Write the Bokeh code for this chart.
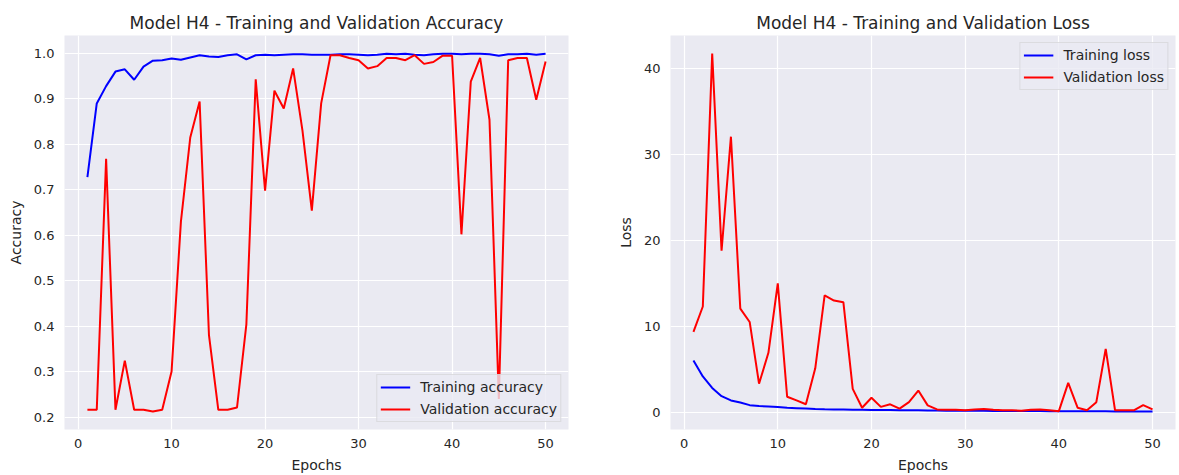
from bokeh.plotting import figure
from bokeh.layouts import row
from bokeh.models import FixedTicker, PrintfTickFormatter, Range1d, Legend, LegendItem
from bokeh.embed import file_html
from bokeh.resources import INLINE

epochs = list(range(1, 51))

train_acc = [0.728, 0.890, 0.928, 0.960, 0.965, 0.942, 0.971, 0.984, 0.985, 0.989,
             0.986, 0.991, 0.996, 0.993, 0.992, 0.996, 0.998, 0.987, 0.996, 0.997,
             0.996, 0.997, 0.998, 0.998, 0.997, 0.997, 0.997, 0.998, 0.998, 0.997,
             0.996, 0.997, 0.999, 0.998, 0.999, 0.997, 0.996, 0.998, 0.999, 0.999,
             0.998, 0.999, 0.999, 0.998, 0.995, 0.998, 0.998, 0.999, 0.997, 0.999]

val_acc = [0.216, 0.216, 0.768, 0.216, 0.324, 0.216, 0.216, 0.212, 0.216, 0.300,
           0.630, 0.815, 0.894, 0.380, 0.216, 0.216, 0.221, 0.404, 0.943, 0.698,
           0.918, 0.879, 0.967, 0.830, 0.654, 0.890, 0.996, 0.996, 0.990, 0.985,
           0.967, 0.972, 0.990, 0.990, 0.985, 0.996, 0.977, 0.981, 0.995, 0.995,
           0.602, 0.938, 0.990, 0.854, 0.240, 0.985, 0.990, 0.990, 0.898, 0.982]

train_loss = [6.00, 4.15, 2.80, 1.85, 1.35, 1.10, 0.80, 0.70, 0.65, 0.58,
              0.50, 0.45, 0.40, 0.35, 0.32, 0.30, 0.28, 0.26, 0.25, 0.24,
              0.23, 0.22, 0.21, 0.20, 0.19, 0.18, 0.17, 0.16, 0.15, 0.15,
              0.14, 0.14, 0.13, 0.13, 0.12, 0.12, 0.11, 0.11, 0.10, 0.10,
              0.10, 0.09, 0.09, 0.08, 0.08, 0.07, 0.07, 0.07, 0.06, 0.06]

val_loss = [9.35, 12.3, 41.8, 18.8, 32.1, 12.05, 10.5, 3.3, 6.9, 15.0,
            1.78, 1.35, 0.90, 5.1, 13.6, 13.0, 12.8, 2.7, 0.5, 1.66,
            0.6, 0.9, 0.4, 1.15, 2.5, 0.77, 0.3, 0.25, 0.25, 0.2,
            0.3, 0.35, 0.25, 0.2, 0.2, 0.15, 0.25, 0.3, 0.2, 0.1,
            3.4, 0.5, 0.2, 1.15, 7.35, 0.2, 0.2, 0.2, 0.8, 0.3]

acc_ticks = [0.2, 0.3, 0.4, 0.5, 0.6, 0.7, 0.8, 0.9, 1.0]
loss_ticks = [0, 10, 20, 30, 40]
epoch_ticks = [0, 10, 20, 30, 40, 50]

FONT = "DejaVu Sans"
TXT = "#262626"
BG = "#EAEAF2"


def style(p, yticks, yfmt, ylabel):
    p.background_fill_color = BG
    p.border_fill_color = "white"
    p.outline_line_color = None
    p.title.text_font = FONT
    p.title.text_font_size = "17px"
    p.title.text_font_style = "normal"
    p.title.text_color = TXT
    p.title.align = "center"
    p.title.standoff = 6
    p.xaxis.ticker = FixedTicker(ticks=epoch_ticks)
    p.yaxis.ticker = FixedTicker(ticks=yticks)
    if yfmt:
        p.yaxis.formatter = PrintfTickFormatter(format=yfmt)
    for ax in (p.xaxis[0], p.yaxis[0]):
        ax.axis_line_color = None
        ax.major_tick_line_color = None
        ax.minor_tick_line_color = None
        ax.major_tick_out = 0
        ax.major_tick_in = 0
        ax.major_label_text_font = FONT
        ax.major_label_text_font_size = "13px"
        ax.major_label_text_color = TXT
        ax.axis_label_text_font = FONT
        ax.axis_label_text_font_size = "14px"
        ax.axis_label_text_font_style = "normal"
        ax.axis_label_text_color = TXT
    p.xaxis.major_label_standoff = 9
    p.xaxis.axis_label_standoff = 6
    p.yaxis.major_label_standoff = 10
    p.yaxis.axis_label_standoff = 7
    p.xaxis.axis_label = "Epochs"
    p.yaxis.axis_label = ylabel
    p.grid.grid_line_color = "white"
    p.grid.grid_line_width = 1.2


def add_legend(p, r1, r2, l1, l2, loc):
    leg = Legend(items=[LegendItem(label=l1, renderers=[r1]),
                        LegendItem(label=l2, renderers=[r2])],
                 location=loc)
    leg.background_fill_color = BG
    leg.background_fill_alpha = 0.8
    leg.border_line_color = "#CCCCCC"
    leg.border_line_width = 1
    leg.label_text_font = FONT
    leg.label_text_font_size = "14px"
    leg.label_text_color = TXT
    leg.glyph_width = 30
    leg.glyph_height = 18
    leg.label_height = 18
    leg.label_standoff = 10
    leg.spacing = 4
    leg.padding = 3
    leg.margin = 7
    p.add_layout(leg)


p1 = figure(width=600, height=475, output_backend="svg", toolbar_location=None,
            x_range=Range1d(-1.45, 52.45), y_range=Range1d(0.1726, 1.0394),
            min_border_left=64, min_border_right=32, min_border_top=35, min_border_bottom=46,
            title="Model H4 - Training and Validation Accuracy")
style(p1, acc_ticks, "%.1f", "Accuracy")
a1 = p1.line(epochs, train_acc, line_color="blue", line_width=2)
a2 = p1.line(epochs, val_acc, line_color="red", line_width=2)
add_legend(p1, a1, a2, "Training accuracy", "Validation accuracy", "bottom_right")

p2 = figure(width=576, height=475, output_backend="svg", toolbar_location=None,
            x_range=Range1d(-1.45, 52.45), y_range=Range1d(-2.04, 43.9),
            min_border_left=70, min_border_right=1, min_border_top=35, min_border_bottom=46,
            title="Model H4 - Training and Validation Loss")
style(p2, loss_ticks, None, "Loss")
b1 = p2.line(epochs, train_loss, line_color="blue", line_width=2)
b2 = p2.line(epochs, val_loss, line_color="red", line_width=2)
add_legend(p2, b1, b2, "Training loss", "Validation loss", "top_right")

layout = row(p1, p2)
open("out.html", "w").write(file_html(layout, INLINE))
